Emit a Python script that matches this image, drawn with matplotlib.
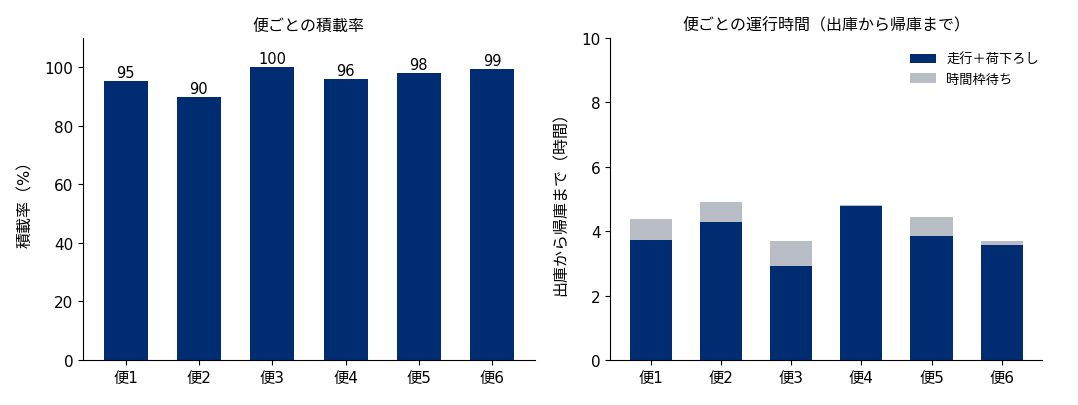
import numpy as np
import matplotlib
matplotlib.use("Agg")
import matplotlib.pyplot as plt

plt.rcParams['font.family'] = ['DejaVu Sans', 'Noto Sans CJK JP']

trips = ['便1', '便2', '便3', '便4', '便5', '便6']
load_rate = [95.3, 90, 100, 96, 98, 99.3]
load_labels = ['95', '90', '100', '96', '98', '99']
drive_unload = [3.74, 4.28, 2.93, 4.77, 3.86, 3.58]
slot_wait = [0.65, 0.61, 0.75, 0.04, 0.59, 0.12]

navy = '#002D72'
gray = '#B8BDC6'

fig = plt.figure(figsize=(10.78, 4.06), dpi=100)
ax1 = fig.add_axes([0.077, 0.111, 0.419, 0.793])
ax2 = fig.add_axes([0.566, 0.111, 0.401, 0.793])

x = np.arange(len(trips))

# left: load rate
bars = ax1.bar(x, load_rate, width=0.6, color=navy)
for b, lab in zip(bars, load_labels):
    ax1.text(b.get_x() + b.get_width() / 2, b.get_height() + 0.3, lab,
             ha='center', va='bottom', fontsize=10.5)
ax1.set_ylim(0, 110)
ax1.set_xticks(x)
ax1.set_xticklabels(trips)
ax1.set_ylabel('積載率（%）', fontsize=11.5, labelpad=8)
ax1.set_title('便ごとの積載率', fontsize=11.5)

# right: operating time
ax2.bar(x, drive_unload, width=0.6, color=navy, label='走行＋荷下ろし')
ax2.bar(x, slot_wait, width=0.6, bottom=drive_unload, color=gray, label='時間枠待ち')
ax2.set_ylim(0, 10)
ax2.set_xticks(x)
ax2.set_xticklabels(trips)
ax2.set_ylabel('出庫から帰庫まで（時間）', fontsize=11.5, labelpad=9)
ax2.set_title('便ごとの運行時間（出庫から帰庫まで）', fontsize=11.5)
ax2.legend(loc='upper right', bbox_to_anchor=(1.02, 0.99), frameon=False,
           fontsize=9.5)

for ax in (ax1, ax2):
    ax.spines['top'].set_visible(False)
    ax.spines['right'].set_visible(False)
    ax.tick_params(labelsize=11)

fig.savefig('out.png', dpi=100)
